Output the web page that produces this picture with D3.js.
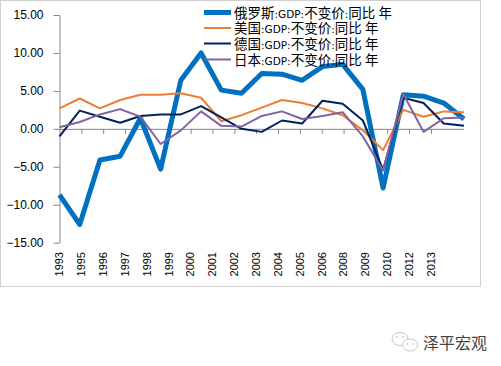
<!DOCTYPE html>
<html><head><meta charset="utf-8">
<script src="https://cdn.jsdelivr.net/npm/d3@7"></script>
<style>body{margin:0;background:#fff}svg{display:block}</style>
</head><body>
<svg id="c" width="501" height="366"></svg>
<script>
const years = d3.range(1993, 2014);
const tickLabels = ["1993","1995","1996","1997","1998","1999","2000","2001","2002","2003","2004","2005","2006","2008","2009","2010","2012","2013"];
const yTicks = [15, 10, 5, 0, -5, -10, -15];
const seriesNames = ["俄罗斯:GDP:不变价:同比 年","美国:GDP:不变价:同比 年","德国:GDP:不变价:同比 年","日本:GDP:不变价:同比 年"];
const russia  = [-8.7,-12.6,-4.1,-3.6,1.4,-5.3,6.4,10.0,5.1,4.7,7.3,7.2,6.4,8.2,8.5,5.2,-7.8,4.5,4.3,3.4,1.3];
const usa     = [2.7,4.0,2.7,3.8,4.5,4.5,4.7,4.1,1.0,1.8,2.8,3.8,3.4,2.7,1.8,-0.2,-2.8,2.5,1.6,2.3,2.2];
const germany = [-1.0,2.4,1.6,0.8,1.7,1.9,1.9,3.0,1.5,0.0,-0.4,1.1,0.7,3.7,3.3,1.1,-5.4,4.1,3.4,0.7,0.4];
const japan   = [0.2,0.9,1.9,2.6,1.6,-2.0,-0.2,2.3,0.4,0.3,1.7,2.3,1.3,1.7,2.2,-1.0,-5.5,4.6,-0.4,1.4,1.5];
const colors = ["#0070C0","#ED7D31","#002060","#8064A2"];
const widths = [5, 2, 2, 2];
const allSeries = [russia, usa, germany, japan];

const svg = d3.select("#c");
svg.append("rect").attr("x",0.5).attr("y",0.5).attr("width",480).attr("height",286)
  .attr("fill","#fff").attr("stroke","#d0d0d0");

const x0 = 59.5, x1 = 464;
const x = d3.scalePoint().domain(years).range([x0, x1]);
const y = d3.scaleLinear().domain([-15, 15]).range([242.7, 15]);
const xl = d3.scalePoint().domain(tickLabels).range([x0, x0 + 17*21.85]);

// y axis
const yAxis = svg.append("g").attr("transform",`translate(${x0},0)`)
  .call(d3.axisLeft(y).tickValues(yTicks).tickSize(6).tickSizeOuter(0).tickFormat(d3.format(".2f")));
yAxis.select(".domain").attr("stroke","#868686");
yAxis.selectAll(".tick line").attr("stroke","#868686");
yAxis.selectAll(".tick text").attr("font-family","Arial, 'Liberation Sans', sans-serif").attr("font-size",12).attr("fill","#000").attr("x",-16);

// x axis at zero
const xAxis = svg.append("g").attr("transform",`translate(0,${y(0)})`)
  .call(d3.axisBottom(xl).tickSize(5).tickSizeOuter(0).tickFormat(""));
xAxis.select(".domain").attr("stroke","#868686").attr("d",`M${x0},0.5H${x1}`);
xAxis.selectAll(".tick line").attr("stroke","#868686");
xAxis.selectAll(".tick").filter((d,i)=>i===0).remove();
// tick labels at bottom
svg.append("g").selectAll("text").data(tickLabels).join("text")
  .attr("transform", d => `translate(${xl(d)},252) rotate(-90)`)
  .attr("text-anchor","end").attr("dy","0.35em")
  .attr("font-family","Arial, 'Liberation Sans', sans-serif").attr("font-size",11).attr("fill","#000")
  .text(d => d);

// lines
const line = d3.line().x((d,i)=>x(years[i])).y(d=>y(d));
allSeries.forEach((s,k)=>{
  svg.append("path").datum(s).attr("d",line).attr("fill","none")
    .attr("stroke",colors[k]).attr("stroke-width",widths[k]).attr("stroke-linejoin","round");
});

// legend
const lg = svg.append("g");
const rowY = [12.5, 28, 43.5, 59.5];
seriesNames.forEach((n,k)=>{
  lg.append("line").attr("x1",204).attr("x2",231).attr("y1",rowY[k]).attr("y2",rowY[k])
    .attr("stroke",colors[k]).attr("stroke-width",widths[k]);
  const t = lg.append("text").attr("x",234).attr("y",rowY[k]).attr("dy","0.4em")
    .attr("font-family","'Noto Sans CJK SC', sans-serif").attr("font-size",13.5).attr("fill","#000");
  const parts = n.match(/[\u4e00-\u9fff]+|[^\u4e00-\u9fff]+/g);
  parts.forEach(p=>{
    const cjk = /[\u4e00-\u9fff]/.test(p);
    t.append("tspan").attr("font-size", cjk ? 13.5 : 10.5)
      .attr("font-family", cjk ? "'Noto Sans CJK SC', sans-serif" : "'DejaVu Sans', sans-serif")
      .text(p);
  });
});

// watermark
const wm = svg.append("g").attr("stroke","#c8c8c8").attr("stroke-width",1);
wm.append("ellipse").attr("cx",400).attr("cy",339).attr("rx",8).attr("ry",6.5).attr("fill","#fff");
wm.append("ellipse").attr("cx",410).attr("cy",345).attr("rx",7.5).attr("ry",6).attr("fill","#fff");
wm.selectAll("circle").data([[397,337],[403,337],[407,344],[413,344]]).join("circle")
  .attr("cx",d=>d[0]).attr("cy",d=>d[1]).attr("r",0.9).attr("fill","#c8c8c8").attr("stroke","none");
svg.append("text").attr("x",423).attr("y",349).attr("font-family","'Noto Sans CJK SC', sans-serif")
  .attr("font-size",16).attr("fill","#444").text("泽平宏观");
</script>
</body></html>
